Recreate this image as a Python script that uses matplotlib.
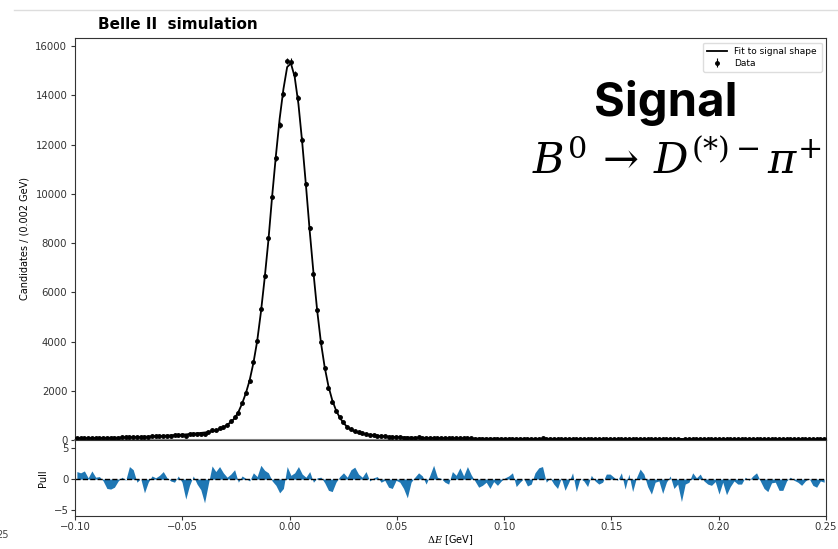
import numpy as np
import matplotlib.pyplot as plt
import matplotlib.lines as mlines

# ========= data =========
X_MIN, X_MAX, N_BINS = -0.10, 0.25, 200

fit_vals = [
    70, 72, 74, 76, 78, 80, 82, 84, 86, 89,
    92, 95, 99, 103, 108, 113, 118, 124, 130, 136,
    143, 150, 158, 166, 175, 184, 194, 204, 215, 227,
    240, 254, 269, 285, 303, 324, 350, 385, 435, 510,
    610, 730, 880, 1130, 1480, 1900, 2420, 3120, 4000, 5180,
    6560, 8100, 9900, 11550, 13050, 14250, 15150, 15300, 14750, 13650,
    12100, 10350, 8500, 6800, 5250, 3950, 2950, 2180, 1620, 1210,
    910, 690, 530, 420, 345, 290, 260, 232, 208, 188,
    172, 158, 146, 136, 128, 121, 115, 109, 104, 99,
    95, 91, 87, 84, 81, 78, 75, 72, 70, 68,
    66, 64, 62, 60, 58, 57, 56, 55, 54, 53,
    52, 51, 51, 50, 50, 49, 49, 48, 48, 48,
    47, 47, 47, 46, 46, 46, 45, 45, 45, 44,
    44, 44, 44, 43, 43, 43, 43, 42, 42, 42,
    42, 41, 41, 41, 41, 41, 40, 40, 40, 40,
    40, 39, 39, 39, 39, 39, 39, 38, 38, 38,
    38, 38, 38, 37, 37, 37, 37, 37, 37, 36,
    36, 36, 36, 36, 36, 36, 35, 35, 35, 35,
    35, 35, 35, 34, 34, 34, 34, 34, 34, 34,
    33, 33, 33, 33, 33, 33, 33, 32, 32, 32,
]

data_vals = [
    80, 80, 85, 78, 89, 83, 86, 81, 72, 74,
    80, 92, 102, 101, 129, 129, 113, 125, 105, 130,
    149, 152, 166, 181, 178, 180, 187, 211, 208, 179,
    225, 262, 256, 256, 237, 310, 389, 409, 477, 533,
    617, 752, 924, 1113, 1499, 1904, 2405, 3176, 4025, 5338,
    6673, 8190, 9870, 11443, 12799, 14071, 15396, 15374, 14871, 13884,
    12188, 10381, 8611, 6759, 5264, 3969, 2917, 2096, 1539, 1193,
    922, 716, 537, 451, 380, 304, 265, 250, 204, 191,
    177, 152, 144, 121, 111, 119, 110, 93, 73, 94,
    98, 101, 92, 77, 86, 97, 78, 73, 66, 61,
    76, 69, 76, 64, 73, 62, 54, 45, 47, 49,
    41, 48, 44, 48, 51, 53, 56, 40, 45, 49,
    39, 42, 54, 58, 60, 43, 46, 40, 35, 45,
    32, 41, 51, 30, 44, 41, 35, 46, 40, 37,
    39, 46, 46, 43, 40, 47, 30, 45, 27, 41,
    50, 44, 32, 24, 36, 37, 25, 35, 41, 29,
    33, 16, 33, 34, 43, 38, 42, 35, 32, 30,
    34, 22, 33, 21, 29, 34, 30, 30, 37, 34,
    38, 41, 33, 25, 22, 31, 31, 24, 24, 32,
    35, 32, 30, 27, 31, 34, 27, 25, 30, 29,
]

pull_vals = [
    1.2, 1.0, 1.3, 0.2, 1.3, 0.3, 0.4, -0.3, -1.5, -1.6,
    -1.3, -0.3, 0.3, -0.2, 2.0, 1.5, -0.5, 0.1, -2.2, -0.5,
    0.5, 0.2, 0.6, 1.2, 0.2, -0.3, -0.5, 0.5, -0.5, -3.2,
    -1.0, 0.5, -0.8, -1.7, -3.8, -0.8, 2.1, 1.2, 2.0, 1.0,
    0.3, 0.8, 1.5, -0.5, 0.5, 0.1, -0.3, 1.0, 0.4, 2.2,
    1.4, 1.0, -0.3, -1.0, -2.2, -1.5, 2.0, 0.6, 1.0, 2.0,
    0.8, 0.3, 1.2, -0.5, 0.2, 0.3, -0.6, -1.8, -2.0, -0.5,
    0.4, 1.0, 0.3, 1.5, 1.9, 0.8, 0.3, 1.2, -0.3, 0.2,
    0.4, -0.5, -0.2, -1.3, -1.5, -0.2, -0.5, -1.5, -3.0, -0.5,
    0.3, 1.0, 0.5, -0.8, 0.6, 2.2, 0.3, 0.1, -0.5, -0.8,
    1.2, 0.6, 1.8, 0.5, 2.0, 0.7, -0.3, -1.3, -1.0, -0.5,
    -1.5, -0.4, -1.0, -0.3, 0.2, 0.5, 1.0, -1.2, -0.5, 0.1,
    -1.1, -0.8, 1.0, 1.8, 2.0, -0.5, 0.2, -0.8, -1.5, 0.2,
    -1.8, -0.5, 1.0, -2.0, 0.1, -0.3, -1.2, 0.6, -0.3, -0.8,
    -0.5, 0.8, 0.8, 0.3, -0.2, 1.0, -1.6, 0.8, -2.0, 0.2,
    1.6, 0.8, -1.2, -2.4, -0.5, -0.3, -2.3, -0.5, 0.5, -1.5,
    -0.8, -3.6, -0.8, -0.5, 1.0, 0.2, 0.8, -0.3, -0.8, -1.0,
    -0.4, -2.4, -0.5, -2.5, -1.2, -0.3, -0.8, -0.8, 0.3, -0.2,
    0.5, 1.0, -0.3, -1.5, -2.0, -0.6, -0.5, -1.8, -1.8, -0.3,
    0.3, -0.2, -0.5, -1.0, -0.3, 0.1, -1.0, -1.3, -0.3, -0.5,
]

edges = np.linspace(X_MIN, X_MAX, N_BINS + 1)
centers = 0.5 * (edges[:-1] + edges[1:])
data = np.array(data_vals, dtype=float)
fit = np.array(fit_vals, dtype=float)
pull = np.array(pull_vals)

# ========= figure =========
plt.rcParams['font.family'] = ['DejaVu Sans']
plt.rcParams['mathtext.fontset'] = 'dejavuserif'
fig = plt.figure(figsize=(8.38, 5.49), dpi=100)
ax = fig.add_axes([0.0895, 0.1986, 0.8962, 0.7322])
axp = fig.add_axes([0.0895, 0.0601, 0.8962, 0.1385], sharex=ax)

TICK_FS = 7.3
spine_col = '#333333'

# main panel
ax.plot(centers, fit, color='k', lw=1.3, zorder=2)
ax.errorbar(centers, data, yerr=np.sqrt(data), fmt='o', color='k',
            ms=2.5, elinewidth=0.8, capsize=0, zorder=3)
ax.set_xlim(X_MIN, X_MAX)
ax.set_ylim(0, 16330)
ax.set_yticks(np.arange(0, 16001, 2000))
ax.set_ylabel("Candidates / (0.002 GeV)", fontsize=7)
ax.tick_params(axis='x', bottom=False, labelbottom=False)
ax.tick_params(axis='y', labelsize=TICK_FS, colors='#333333', length=3, pad=2.5)

h_fit = mlines.Line2D([], [], color='k', lw=1.3)
h_dat = ax.errorbar([], [], yerr=[], fmt='o', color='k', ms=2.5, elinewidth=0.8)
ax.legend([h_fit, h_dat], ["Fit to signal shape", "Data"], loc='upper right',
          fontsize=6.5, frameon=True, framealpha=1, edgecolor='#dddddd',
          borderpad=0.5, handlelength=2.2, labelspacing=0.3)

# pull panel
axp.fill_between(centers, pull, 0, color='#1f77b4', lw=0)
axp.axhline(0, color='k', ls='--', lw=1.0)
axp.set_ylim(-5.9, 6.25)
axp.set_yticks([-5, 0, 5])
axp.set_xticks(np.arange(-0.10, 0.2501, 0.05))
axp.set_ylabel("Pull", fontsize=7)
axp.set_xlabel(r"$\Delta E$ [GeV]", fontsize=7, labelpad=1)
axp.tick_params(labelsize=TICK_FS, colors='#333333', length=3, pad=1.5)

for a in (ax, axp):
    for s in a.spines.values():
        s.set_color(spine_col)
        s.set_linewidth(0.8)
ax.spines['bottom'].set_color('#888888')
ax.spines['bottom'].set_linewidth(1.5)

fig.align_ylabels([ax, axp])

# annotations
fig.text(0.117, 0.956, "Belle II  simulation", fontsize=11, fontweight='bold',
         ha='left', va='center')
fig.text(0.794, 0.812, "Signal", fontsize=34, fontweight='bold',
         family=['Inter', 'DejaVu Sans'], ha='center', va='center')
fig.text(0.808, 0.706, r"$B^0\,\rightarrow\,D^{(*)-}\pi^{+}$", fontsize=31,
         ha='center', va='center')

# screenshot leftovers
fig.add_artist(mlines.Line2D([0.017, 1.0], [0.982, 0.982], color='#dddddd', lw=1))
fig.text(-0.004, 0.025, "25", fontsize=7, color='#444444', ha='left', va='center')

plt.savefig("out.png", dpi=100)
